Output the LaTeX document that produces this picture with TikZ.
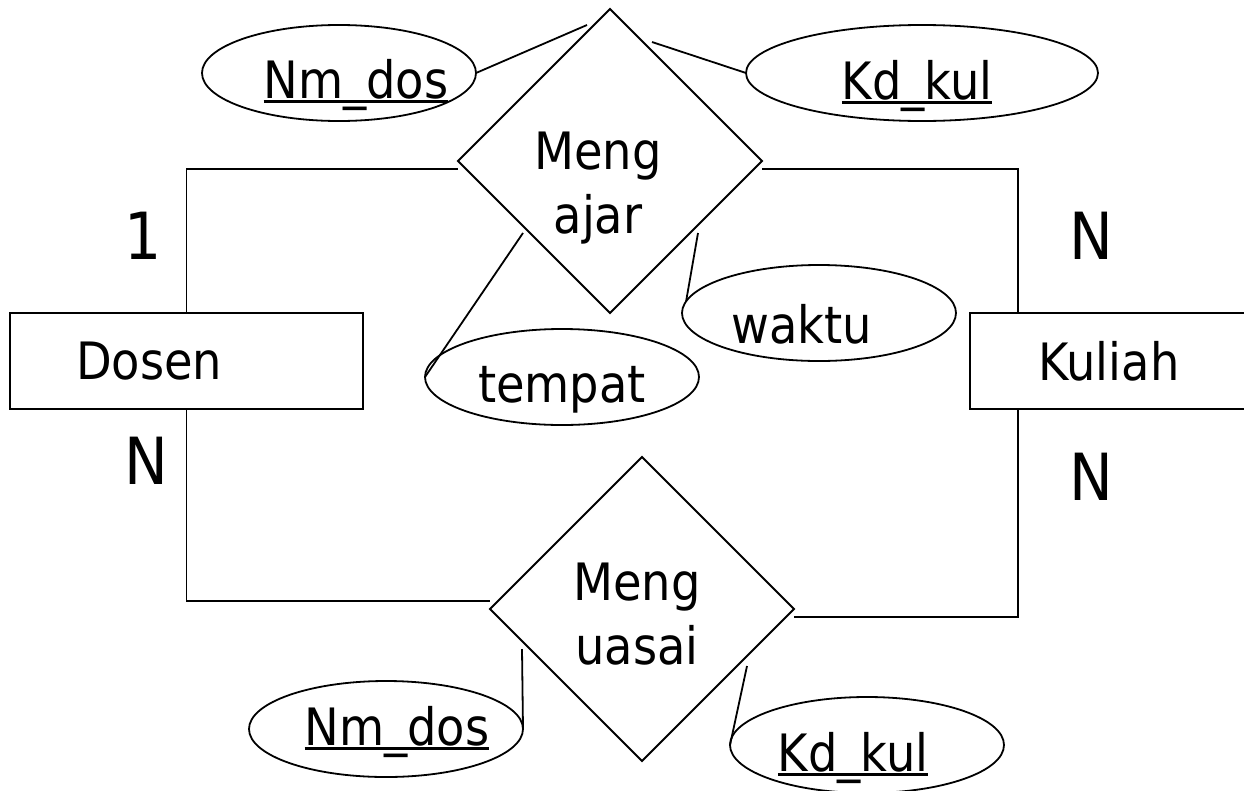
\documentclass[tikz,border=0pt]{standalone}
\usepackage{fontspec}
\setmainfont{DejaVu Sans Condensed}
\newcommand{\garisbawah}[1]{\setbox0\hbox{#1}\rlap{\copy0}\rule[-5pt]{\wd0}{2.6pt}}
\usetikzlibrary{calc,shapes.geometric}
\tikzset{inner sep=0pt, outer sep=0pt,
  entity/.style={draw, rectangle, minimum height=96pt, font=\fontsize{51.5}{64}\selectfont},
  relasi/.style={draw, diamond, aspect=1, minimum width=304pt, minimum height=304pt},
  atribut/.style={draw, ellipse, minimum width=274pt, minimum height=96pt},
  teks/.style={align=center, font=\fontsize{51.5}{64}\selectfont},
  kardinal/.style={font=\fontsize{65}{65}\selectfont}}

\begin{document}
\begin{tikzpicture}[x=1pt,y=-1pt,line width=1.8pt]
	\useasboundingbox (0,0) rectangle (1244,790);
	
	\node[entity, minimum width=353pt, text width=221pt, align=left] (dosen) at (186.5,361) {Dosen};
	\node[entity, minimum width=278pt] (kuliah) at (1109,361) {Kuliah};
	
	\node[relasi] (ajar) at (610,161) {};
	\node[teks, anchor=north] (ajar-t) at (598,132) {Meng\\ajar};
	\node[relasi] (uasai) at (642,609) {};
	\node[teks, anchor=north] (uasai-t) at (637,563) {Meng\\uasai};
	
	\node[atribut] (nmdos1) at (339,73) {};
	\node[atribut, minimum width=352pt] (kdkul1) at (922,73) {};
	\node[atribut] (tempat) at (562,377) {};
	\node[atribut] (waktu) at (819,313) {};
	\node[atribut] (nmdos2) at (386,729) {};
	\node[atribut] (kdkul2) at (867,745) {};
	
	\node[teks, anchor=base] (nmdos1-t) at (356,98) {\garisbawah{Nm\_dos}};
	\node[teks, anchor=base] (kdkul1-t) at (917,99) {\garisbawah{Kd\_kul}};
	\node[teks, anchor=base] (tempat-t) at (562,402) {tempat};
	\node[teks, anchor=base] (waktu-t) at (802,343) {waktu};
	\node[teks, anchor=base] (nmdos2-t) at (397,745) {\garisbawah{Nm\_dos}};
	\node[teks, anchor=base] (kdkul2-t) at (853,771) {\garisbawah{Kd\_kul}};
	
	\node[kardinal] (k1) at (143,236) {1};
	\node[kardinal] (k2) at (146,461) {N};
	\node[kardinal] (k3) at (1091,236) {N};
	\node[kardinal] (k4) at (1091,477) {N};
	
	\draw (dosen.north) |- ([yshift=-8pt]ajar.west);
	\draw ([yshift=-8pt]ajar.east) -| ($(kuliah.north west)+(48,0)$);
	\draw (dosen.south) |- ([yshift=8pt]uasai.west);
	\draw ([yshift=-8pt]uasai.east) -| ($(kuliah.south west)+(48,0)$);
	
	\draw (nmdos1.east) -- ($(ajar.north)+(-23,16)$);
	\draw ($(ajar.north)+(42,33)$) -- (kdkul1.west);
	\draw ($(ajar.center)+(-87,72)$) -- (tempat.west);
	\draw ($(ajar.center)+(88,72)$) -- (waktu.175);
	\draw ($(uasai.center)+(-120,40)$) -- (nmdos2.east);
	\draw ($(uasai.center)+(105,57)$) -- (kdkul2.west);
\end{tikzpicture}
\end{document}
